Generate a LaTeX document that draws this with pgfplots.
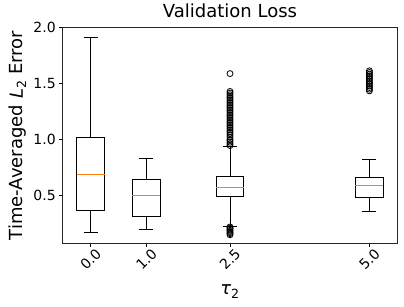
\documentclass[border=0pt]{standalone}
\usepackage{fontspec}
\setmainfont{DejaVu Sans}
\usepackage{pgfplots}
\pgfplotsset{compat=1.18}
\usepgfplotslibrary{statistics}
\definecolor{mplorange}{HTML}{FF7F0E}
\begin{document}
\begin{tikzpicture}
\begin{axis}[
  scale only axis, width=334.6pt, height=216.4pt,
  xmin=-0.5, xmax=5.5, ymin=0.065, ymax=2.005,
  xtick={0,1,2.5,5}, xticklabels={0.0,1.0,2.5,5.0},
  ytick={0.5,1.0,1.5,2.0}, yticklabels={0.5,1.0,1.5,2.0},
  tick pos=left, tick align=outside, major tick length=3.5pt,
  every tick/.style={black, line width=0.8pt},
  axis line style={black!85, line width=0.8pt},
  ticklabel style={font=\fontsize{14}{16}\selectfont},
  xticklabel style={rotate=45, anchor=center},
  xticklabel shift=12pt,
  title={Validation Loss},
  title style={font=\fontsize{18}{21}\selectfont},
  xlabel={\textit{τ}\textsubscript{2}},
  xlabel style={yshift=-6pt},
  ylabel={Time-Averaged \textit{L}\textsubscript{2} Error},
  label style={font=\fontsize{18}{21}\selectfont},
  boxplot/draw direction=y,
  boxplot/box extend=0.5, boxplot/whisker extend=0.25,
  boxplot/every median/.style={draw=mplorange, line width=1pt},
]
\addplot[black, line width=1pt, mark=o, mark size=3pt, mark options={solid, black, line width=0.8pt},
  boxplot prepared={draw position=0, lower whisker=0.167, lower quartile=0.363,
    median=0.685, upper quartile=1.015, upper whisker=1.917}]
  coordinates {};
\addplot[black, line width=1pt, mark=o, mark size=3pt, mark options={solid, black, line width=0.8pt},
  boxplot prepared={draw position=1, lower whisker=0.194, lower quartile=0.31,
    median=0.497, upper quartile=0.64, upper whisker=0.828}]
  coordinates {};
\addplot[black, line width=1pt, mark=o, mark size=3pt, mark options={solid, black, line width=0.8pt},
  boxplot prepared={draw position=2.5, lower whisker=0.22, lower quartile=0.488,
    median=0.571, upper quartile=0.667, upper whisker=0.935}]
  coordinates {(2.5,0.945) (2.5,0.96) (2.5,0.975) (2.5,0.99) (2.5,1.00) (2.5,1.02)
    (2.5,1.04) (2.5,1.055) (2.5,1.07) (2.5,1.085) (2.5,1.10) (2.5,1.115) (2.5,1.13)
    (2.5,1.145) (2.5,1.16) (2.5,1.175) (2.5,1.19) (2.5,1.205) (2.5,1.22) (2.5,1.235)
    (2.5,1.25) (2.5,1.265) (2.5,1.28) (2.5,1.295) (2.5,1.31) (2.5,1.325) (2.5,1.34)
    (2.5,1.355) (2.5,1.37) (2.5,1.385) (2.5,1.40) (2.5,1.415) (2.5,1.43) (2.5,1.59)
    (2.5,0.215) (2.5,0.205) (2.5,0.195) (2.5,0.185) (2.5,0.175) (2.5,0.165)
    (2.5,0.155) (2.5,0.145)};
\addplot[black, line width=1pt, mark=o, mark size=3pt, mark options={solid, black, line width=0.8pt},
  boxplot prepared={draw position=5, lower whisker=0.355, lower quartile=0.479,
    median=0.587, upper quartile=0.658, upper whisker=0.819}]
  coordinates {(5,1.435) (5,1.45) (5,1.465) (5,1.48) (5,1.495) (5,1.51) (5,1.525)
    (5,1.54) (5,1.555) (5,1.57) (5,1.585) (5,1.60) (5,1.615)};
\end{axis}
\pgfresetboundingbox
\path (-62.7pt,-62.3pt) rectangle (341.3pt,243.7pt);
\end{tikzpicture}
\end{document}
